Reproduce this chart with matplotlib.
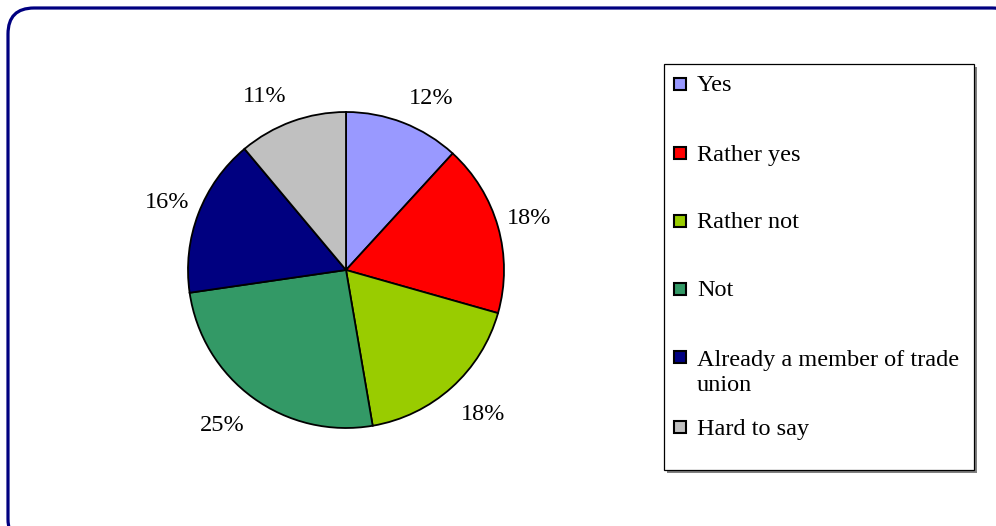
import numpy as np
import matplotlib.pyplot as plt
from matplotlib.patches import FancyBboxPatch, Rectangle

plt.rcParams['font.family'] = ['Liberation Serif', 'DejaVu Serif']

labels = ['Yes', 'Rather yes', 'Rather not', 'Not',
          'Already a member of trade\nunion', 'Hard to say']
values = [11.8, 17.6, 17.9, 25.4, 16.2, 11.1]
colors = ['#9999FF', '#FF0000', '#99CC00', '#339966', '#000080', '#C0C0C0']

W, H = 996, 526
fig = plt.figure(figsize=(W / 100, H / 100), dpi=100)

def px(x, y):
    # pixel position (from top-left) -> inches for dpi_scale_trans
    return x / 100, (H - y) / 100

# outer rounded frame (runs off the right and bottom edges)
frame = FancyBboxPatch(px(8, 545), 10.1, 5.37, boxstyle='round,pad=0,rounding_size=0.26',
                       transform=fig.dpi_scale_trans, facecolor='white',
                       edgecolor='#000080', linewidth=2.3, zorder=-2)
fig.patches.append(frame)

# pie
ax = fig.add_axes([188 / W, 98 / H, 316 / W, 316 / H])
ax.set_zorder(3)
wedges, _ = ax.pie(values, colors=colors, startangle=90, counterclock=False, radius=1,
                   wedgeprops=dict(edgecolor='black', linewidth=1.3))
ax.set_xlim(-1, 1)
ax.set_ylim(-1, 1)
ax.set_aspect('equal')
ax.axis('off')

# percentage labels, anchored outside the slice like Excel does
total = sum(values)
for w, v in zip(wedges, values):
    ang = np.deg2rad((w.theta1 + w.theta2) / 2)
    cx, cy = np.cos(ang), np.sin(ang)
    r = 1.04 + 0.06 * abs(cy)
    if cy > 0:
        dy = 0.065 * np.clip(2 * cy, -1, 1)
    else:
        dy = 0.085 * np.clip(2 * cy, -1, 1) - 0.02
    ax.text(r * cx, r * cy + dy, f'{round(100 * v / total)}%',
            ha='left' if cx > 0 else 'right', va='center', fontsize=17.5, clip_on=False)

# legend box with shadow
x0, y0 = px(664, 470)
shadow = Rectangle((x0 + 0.025, y0 - 0.025), 3.1, 4.06, transform=fig.dpi_scale_trans,
                   facecolor='#808080', edgecolor='none', zorder=1)
box = Rectangle((x0, y0), 3.1, 4.06, transform=fig.dpi_scale_trans,
                facecolor='white', edgecolor='black', linewidth=0.9, zorder=2)
fig.patches.extend([shadow, box])

entry_y = [84, 153, 221, 289, 357, 427]
for lab, col, yy in zip(labels, colors, entry_y):
    sx, sy = px(674, yy + 6)
    fig.patches.append(Rectangle((sx, sy), 0.12, 0.12, transform=fig.dpi_scale_trans,
                                 facecolor=col, edgecolor='black', linewidth=1.5, zorder=3))
    ty = yy + 2 if '\n' not in lab else yy + 16
    tx, ty = px(697, ty)
    fig.text(tx, ty, lab, transform=fig.dpi_scale_trans, fontsize=17.5,
             va='center', zorder=4, linespacing=1.2)

fig.savefig('out.png', dpi=100)
